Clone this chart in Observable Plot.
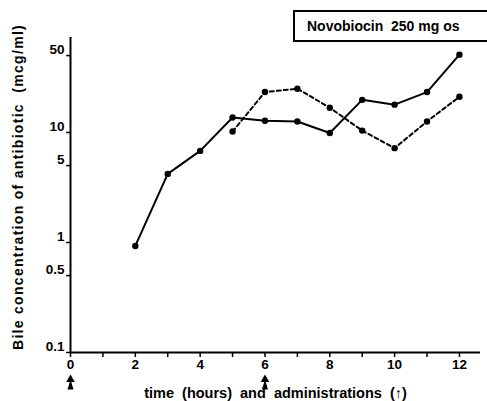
<!DOCTYPE html>
<html>
<head>
<meta charset="utf-8">
<script src="https://cdn.jsdelivr.net/npm/d3@7"></script>
<script src="https://cdn.jsdelivr.net/npm/@observablehq/plot@0.6"></script>
<style>
  body { margin: 0; background: #fff; }
  #wrap { position: relative; width: 487px; height: 401px; overflow: hidden; }
  #title { position: absolute; left: 293px; top: 10px; width: 220px; height: 28px;
    border: 2px solid #000; box-sizing: content-box; font: bold 14px "Liberation Sans", Arial, sans-serif;
    line-height: 28px; padding-left: 12px; color: #000; }
</style>
</head>
<body>
<div id="wrap"><div id="title">Novobiocin&nbsp; 250 mg os</div></div>
<script>
const hours = [2, 3, 4, 5, 6, 7, 8, 9, 10, 11, 12];
const solidValues = [0.93, 4.2, 6.8, 13.7, 12.8, 12.6, 9.9, 19.8, 17.9, 23.3, 51];
const dashedHours = [5, 6, 7, 8, 9, 10, 11, 12];
const dashedValues = [10.2, 23.3, 25, 16.8, 10.4, 7.2, 12.6, 21.1];
const yTicks = [0.1, 0.5, 1, 5, 10, 50];
const yTickLabels = ["0.1", "0.5", "1", "5", "10", "50"];
const xTicks = [0, 1, 2, 3, 4, 5, 6, 7, 8, 9, 10, 11, 12];
const xTickLabels = ["0", "", "2", "", "4", "", "6", "", "8", "", "10", "", "12"];
const administrations = [0, 6];
const yLabel = "Bile concentration of antibiotic  (mcg/ml)";
const xLabel = "time  (hours)  and  administrations  (↑)";

const solid = hours.map((h, i) => ({x: h, y: solidValues[i]}));
const dashed = dashedHours.map((h, i) => ({x: h, y: dashedValues[i]}));
const yTickData = yTicks.map((v, i) => ({v, label: yTickLabels[i]}));
const xTickData = xTicks.map((v, i) => ({v, label: xTickLabels[i]}));

const ff = "'Liberation Sans', Arial, sans-serif";

const chart = Plot.plot({
  width: 487,
  height: 401,
  marginLeft: 70,
  marginRight: 7,
  marginTop: 37,
  marginBottom: 49,
  style: {fontFamily: ff, fontWeight: "bold", color: "#000", background: "transparent"},
  x: {domain: [0, 12.65], axis: null},
  y: {type: "log", domain: [0.1, 73], axis: null},
  marks: [
    // axis lines
    Plot.ruleX([0], {strokeWidth: 2}),
    Plot.ruleY([0.1], {strokeWidth: 2}),
    // y ticks and labels
    Plot.ruleY(yTickData, {y: "v", x1: -0.12, x2: 0, strokeWidth: 1.5}),
    Plot.text(yTickData, {x: 0, y: "v", text: "label", textAnchor: "end", dx: -6, dy: -6, fontSize: 13.5, fontWeight: "bold"}),
    // x ticks and labels
    Plot.ruleX(xTickData, {x: "v", y1: 0.1, y2: 0.1, strokeWidth: 1.5, insetBottom: -5}),
    Plot.text(xTickData, {x: "v", frameAnchor: "bottom", text: "label", dy: 16, fontSize: 13.5, fontWeight: "bold"}),
    // administration arrows
    Plot.vector(administrations, {x: d => d, frameAnchor: "bottom", dy: 37, length: 10, anchor: "start", rotate: 0, shape: "spike", strokeWidth: 1.5, fill: "#000", r: 3}),
    Plot.dot(administrations, {x: d => d, frameAnchor: "bottom", dy: 27, symbol: "triangle", r: 3.2, fill: "#000", stroke: null}),
    // axis titles
    Plot.text([xLabel], {text: d => d, frameAnchor: "bottom", dy: 45, fontSize: 14.5, fontWeight: "bold"}),
    Plot.text([yLabel], {text: d => d, frameAnchor: "left", textAnchor: "middle", dx: -52, dy: -8, rotate: -90, fontSize: 14, fontWeight: "bold"}),
    // data
    Plot.line(solid, {x: "x", y: "y", strokeWidth: 2}),
    Plot.line(dashed, {x: "x", y: "y", strokeWidth: 2, strokeDasharray: "4,3"}),
    Plot.dot(solid, {x: "x", y: "y", r: 3.2, fill: "#000"}),
    Plot.dot(dashed, {x: "x", y: "y", r: 3.2, fill: "#000"})
  ]
});
// widen letter spacing of the y-axis title to match the reference typeset look
d3.select(chart).selectAll("text").filter(function() { return this.textContent === yLabel; })
  .style("letter-spacing", "1.3px");
document.getElementById("wrap").prepend(chart);
chart.style.position = "absolute";
chart.style.left = "0";
chart.style.top = "0";
</script>
</body>
</html>
